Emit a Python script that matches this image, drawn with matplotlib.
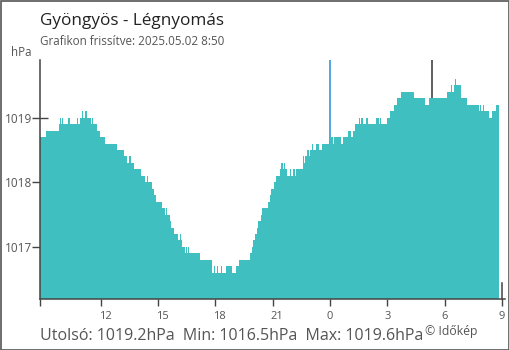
import matplotlib
matplotlib.use("Agg")
import matplotlib.pyplot as plt
import matplotlib.transforms as mtransforms
from matplotlib.patches import Rectangle
import numpy as np

plt.rcParams['font.family'] = ['Open Sans', 'DejaVu Sans']

title = "Gyöngyös - Légnyomás"
subtitle = "Grafikon frissítve: 2025.05.02 8:50"
unit = "hPa"
footer = "Utolsó: 1019.2hPa  Min: 1016.5hPa  Max: 1019.6hPa"
credit = "© Időkép"

# minutes since 2025-05-01 08:50, value holds until next entry
minutes = [0, 19, 60, 63, 66, 69, 72, 88, 94, 116, 119, 126, 132, 135, 141, 147, 160, 163, 166, 178,
           187, 204, 242, 264, 273, 279, 286, 295, 317, 329, 336, 339, 351, 358, 364, 383, 392, 395, 398, 408,
           411, 420, 433, 439, 442, 446, 455, 458, 461, 464, 468, 502, 540, 546, 549, 555, 559, 568, 571, 584,
           602, 615, 624, 659, 665, 668, 675, 681, 684, 694, 697, 715, 722, 725, 734, 741, 753, 756, 763, 766,
           769, 775, 785, 788, 794, 800, 803, 825, 828, 832, 838, 844, 847, 854, 857, 866, 876, 885, 910, 919,
           923, 945, 951, 967, 976, 982, 988, 1001, 1004, 1007, 1014, 1023, 1029, 1054, 1064, 1067, 1070, 1089, 1098, 1111,
           1120, 1133, 1174, 1208, 1221, 1277, 1290, 1293, 1299, 1302, 1305, 1321, 1340, 1378, 1381, 1384, 1390, 1393, 1409, 1418,
           1431, 1440]
pressure = [1018.7, 1018.8, 1018.9, 1019.0, 1018.9, 1019.0, 1018.9, 1019.0, 1018.9, 1019.0, 1018.9, 1019.0, 1019.1, 1019.0, 1019.1, 1019.0, 1018.9, 1019.0, 1018.9, 1018.8,
            1018.7, 1018.6, 1018.5, 1018.4, 1018.3, 1018.4, 1018.3, 1018.2, 1018.1, 1018.0, 1018.1, 1018.0, 1017.9, 1017.8, 1017.7, 1017.6, 1017.5, 1017.6, 1017.5, 1017.4,
            1017.3, 1017.2, 1017.1, 1017.2, 1017.1, 1017.0, 1016.9, 1017.0, 1016.9, 1017.0, 1016.9, 1016.8, 1016.6, 1016.7, 1016.6, 1016.7, 1016.6, 1016.7, 1016.6, 1016.7,
            1016.6, 1016.7, 1016.8, 1016.9, 1017.0, 1017.1, 1017.2, 1017.3, 1017.4, 1017.5, 1017.6, 1017.7, 1017.8, 1017.9, 1018.0, 1018.1, 1018.2, 1018.3, 1018.2, 1018.3,
            1018.2, 1018.1, 1018.2, 1018.1, 1018.2, 1018.1, 1018.2, 1018.4, 1018.3, 1018.4, 1018.5, 1018.4, 1018.5, 1018.6, 1018.5, 1018.6, 1018.5, 1018.6, 1018.7, 1018.6,
            1018.7, 1018.6, 1018.7, 1018.8, 1018.7, 1018.8, 1018.9, 1019.0, 1018.9, 1019.0, 1018.9, 1019.0, 1018.9, 1019.0, 1018.9, 1019.0, 1018.9, 1019.0, 1019.1, 1019.2,
            1019.3, 1019.4, 1019.3, 1019.2, 1019.3, 1019.4, 1019.5, 1019.4, 1019.5, 1019.6, 1019.5, 1019.3, 1019.2, 1019.1, 1019.2, 1019.1, 1019.2, 1019.1, 1019.0, 1019.1,
            1019.2, 1019.2]

tick_hours = [12, 15, 18, 21, 24, 27, 30, 33]
tick_labels = ["12", "15", "18", "21", "0", "3", "6", "9"]
y_ticks = [1017, 1018, 1019]
midnight_hour = 24
sunrise_hour = 29 + 21 / 60
start_hour = 8 + 50 / 60

fill_color = "#40bfc1"
axis_color = "#444444"
text_color = "#555555"

fig = plt.figure(figsize=(5.1, 3.5), dpi=100)
ax = fig.add_axes([40 / 510, 51.4 / 350, 465.3 / 510, 239.1 / 350])

def to_min(h):
    return (h - start_hour) * 60

ax.fill_between(minutes, pressure, 1016.2, step='post', color=fill_color, linewidth=0, zorder=2)
ax.axvline(to_min(midnight_hour), color="#3498db", lw=1.2, zorder=1)
ax.axvline(to_min(sunrise_hour), ymin=(1019.3 - 1016.2) / 3.7, color="#333333", lw=1.1, zorder=1)

ax.set_xlim(0, 1460)
ax.set_ylim(1016.2, 1019.9)

for s in ['top', 'right']:
    ax.spines[s].set_visible(False)
for s in ['left', 'bottom']:
    ax.spines[s].set_color(axis_color)
    ax.spines[s].set_linewidth(1.1)

xt = [0] + [to_min(h) for h in tick_hours]
ax.set_xticks(xt)
ax.set_xticklabels([""] + tick_labels, fontsize=8, color=text_color)
ax.tick_params(axis='x', direction='out', length=5, width=1, color=axis_color, pad=4)
for lab in ax.get_xticklabels():
    if len(lab.get_text()) == 2:
        lab.set_transform(lab.get_transform() + mtransforms.ScaledTranslation(4.5 / 100, 0, fig.dpi_scale_trans))
ax.get_xticklines()[2 * (1 + tick_hours.index(midnight_hour))].set_color("#3498db")

# taller "now" marker at the last tick
now_x = to_min(tick_hours[-1])
ax.plot([now_x, now_x], [0, 16 / 239.1], transform=mtransforms.blended_transform_factory(ax.transData, ax.transAxes),
        color=axis_color, lw=1.1, zorder=3, clip_on=False)

ax.set_yticks(y_ticks)
ax.set_yticklabels([str(v) for v in y_ticks], fontsize=8.5, color=text_color)
ax.tick_params(axis='y', direction='inout', length=11, width=1, color=axis_color, pad=0)

fig.text(40.5 / 510, 1 - 25 / 350, title, fontsize=12.3, color="#222222", ha='left', va='baseline')
fig.text(40.5 / 510, 1 - 45 / 350, subtitle, fontsize=8.4, color=text_color, ha='left', va='baseline')
fig.text(32 / 510, 1 - 56 / 350, unit, fontsize=8.3, color=text_color, ha='right', va='baseline')
fig.text(40.5 / 510, 1 - 339.5 / 350, footer, fontsize=11.5, color=text_color, ha='left', va='baseline')
fig.text(425 / 510, 1 - 335.5 / 350, credit, fontsize=8.8, color=text_color, ha='left', va='baseline')

fig.patches.append(Rectangle((0.001, 0.001), 0.997, 0.997, transform=fig.transFigure, fill=False,
                             edgecolor="#555555", linewidth=1.2))

fig.savefig("out.png", dpi=100)
